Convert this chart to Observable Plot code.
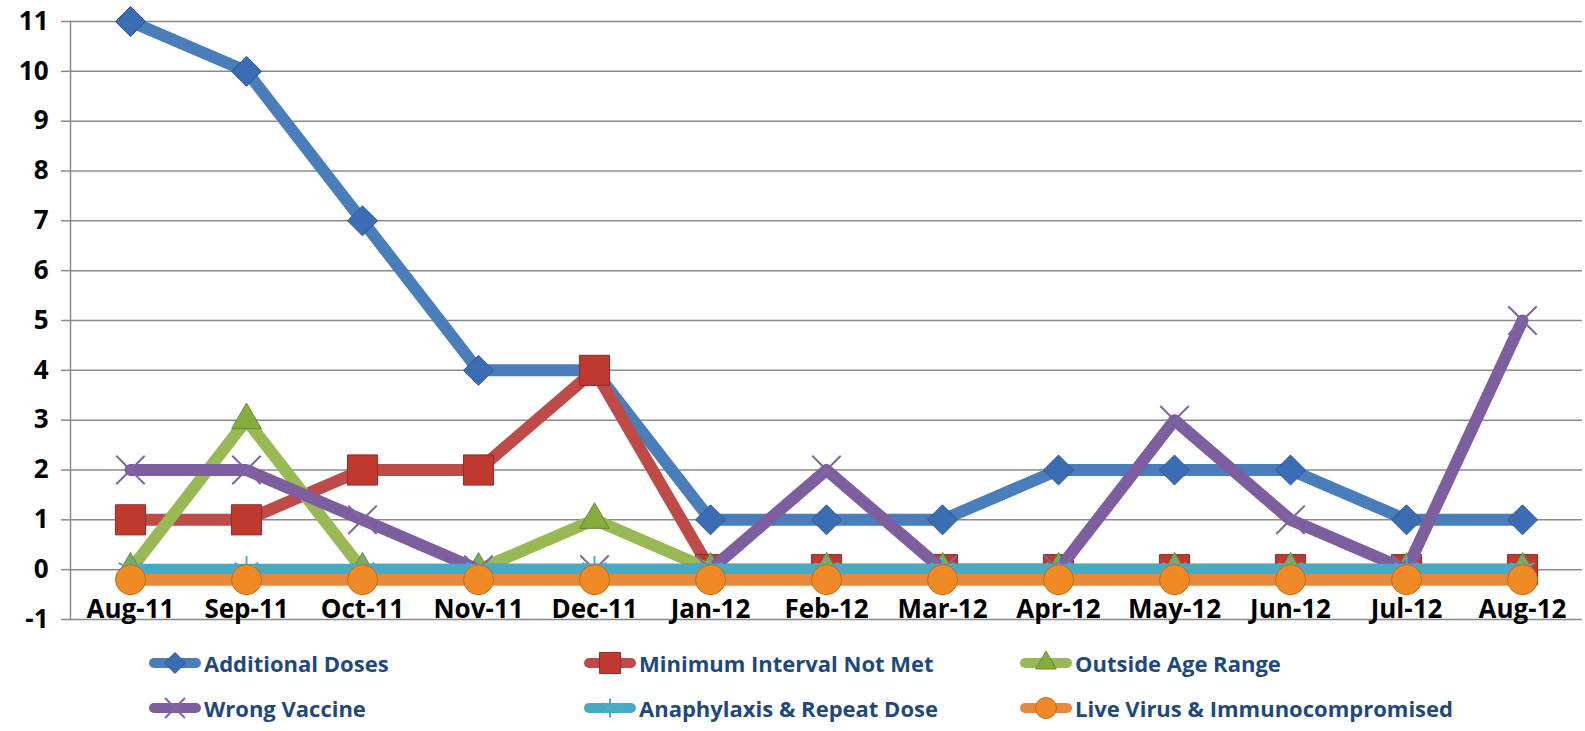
<!DOCTYPE html>
<html><head><meta charset="utf-8">
<script src="https://cdn.jsdelivr.net/npm/d3@7"></script>
<script src="https://cdn.jsdelivr.net/npm/@observablehq/plot@0.6"></script>
<style>
body{margin:0;background:#fff;}
#chart{position:relative;width:1585px;height:731px;overflow:hidden;}
.leg{position:absolute;display:flex;align-items:center;font-family:"Open Sans";font-weight:700;font-size:22px;color:#1F497D;white-space:nowrap;height:30px;}
.leg svg{margin-right:2px;}
</style></head><body><div id="chart"></div>
<script>
const months = ["Aug-11","Sep-11","Oct-11","Nov-11","Dec-11","Jan-12","Feb-12","Mar-12","Apr-12","May-12","Jun-12","Jul-12","Aug-12"];
const additionalDoses = [11,10,7,4,4,1,1,1,2,2,2,1,1];
const minimumIntervalNotMet = [1,1,2,2,4,0,0,0,0,0,0,0,0];
const outsideAgeRange = [0,3,0,0,1,0,0,0,0,0,0,0,0];
const wrongVaccine = [2,2,1,0,0,0,2,0,0,3,1,0,5];
const anaphylaxisRepeatDose = [0,0,0,0,0,0,0,0,0,0,0,0,0];
const liveVirusImmunocompromised = [0,0,0,0,0,0,0,0,0,0,0,0,0];
const seriesNames = ["Additional Doses","Minimum Interval Not Met","Outside Age Range","Wrong Vaccine","Anaphylaxis & Repeat Dose","Live Virus & Immunocompromised"];
const seriesValues = [additionalDoses, minimumIntervalNotMet, outsideAgeRange, wrongVaccine, anaphylaxisRepeatDose, liveVirusImmunocompromised];
const yTicks = [-1,0,1,2,3,4,5,6,7,8,9,10,11];

const styles = [
  {line:"#4A7EBB", symbol:"diamond2", r:13.5, fill:"#3A6DB3", stroke:"#2B5893", sw:1, dy:0},
  {line:"#BE4B48", symbol:"square", r:17, fill:"#C0392F", stroke:"#8E2B27", sw:1, dy:0},
  {line:"#98B954", symbol:"triangle", r:11, fill:"#86AC3E", stroke:"#6A8B30", sw:1, dy:0},
  {line:"#7D5FA0", symbol:"times", r:13, fill:"none", stroke:"#8064A2", sw:2, dy:0},
  {line:"#46AAC5", symbol:"asterisk", r:13, fill:"none", stroke:"#4BACC6", sw:2, dy:0},
  {line:"#E8883A", symbol:"circle", r:15, fill:"#F08A24", stroke:"#C8691A", sw:1, dy:10}
];

const tables = seriesValues.map((vals, s) => months.map((m, i) => ({month: m, value: vals[i], series: seriesNames[s]})));

const marks = [
  Plot.gridY(yTicks, {stroke:"#8a8a8a", strokeOpacity:1, strokeWidth:1.5}),
  Plot.frame({anchor:"left", stroke:"#8a8a8a", strokeWidth:1.5}),
  Plot.axisY(yTicks, {tickSize:9, tickPadding:13, stroke:"#8a8a8a", strokeWidth:1.5, fontSize:26, fontWeight:"bold", fill:"#000", tickFormat:d => String(d)}),
  Plot.axisX({anchor:"bottom", tickSize:0, tickPadding:0, dy:-20, fontSize:26, fontWeight:"bold", fill:"#000"})
];
tables.forEach((t, s) => {
  const st = styles[s];
  marks.push(Plot.line(t, {x:"month", y:"value", stroke:st.line, strokeWidth:12, strokeLinejoin:"round", strokeLinecap:"round", dy:st.dy}));
  marks.push(Plot.dot(t, {x:"month", y:"value", symbol:st.symbol, r:st.r, fill:st.fill, stroke:st.stroke, strokeWidth:st.sw, dy:st.dy}));
});

const chart = Plot.plot({
  width:1585, height:640,
  marginLeft:70, marginRight:3, marginTop:21, marginBottom:21,
  style:{fontFamily:"Open Sans", background:"#fff", overflow:"visible"},
  x:{type:"point", domain:months, padding:0.5, label:null},
  y:{domain:[-1,11], label:null},
  marks
});
const root = document.getElementById("chart");
root.appendChild(chart);

const legPos = [[148,648],[583,648],[1019,648],[148,693],[583,693],[1019,693]];
const symMap = {diamond2:d3.symbolDiamond2, square:d3.symbolSquare, triangle:d3.symbolTriangle, times:d3.symbolTimes, asterisk:d3.symbolAsterisk, circle:d3.symbolCircle};
seriesNames.forEach((name, s) => {
  const st = styles[s];
  const div = document.createElement("div");
  div.className = "leg";
  div.style.left = legPos[s][0] + "px";
  div.style.top = legPos[s][1] + "px";
  const svg = d3.create("svg").attr("width",54).attr("height",30);
  svg.append("line").attr("x1",6).attr("x2",48).attr("y1",15).attr("y2",15)
    .attr("stroke",st.line).attr("stroke-width",10).attr("stroke-linecap","round");
  const rr = st.r * 0.7;
  svg.append("path").attr("transform","translate(27,15)")
    .attr("d", d3.symbol(symMap[st.symbol], Math.PI*rr*rr)())
    .attr("fill", st.fill).attr("stroke", st.stroke).attr("stroke-width", st.sw);
  div.appendChild(svg.node());
  const span = document.createElement("span");
  span.textContent = name;
  div.appendChild(span);
  root.appendChild(div);
});
</script></body></html>
